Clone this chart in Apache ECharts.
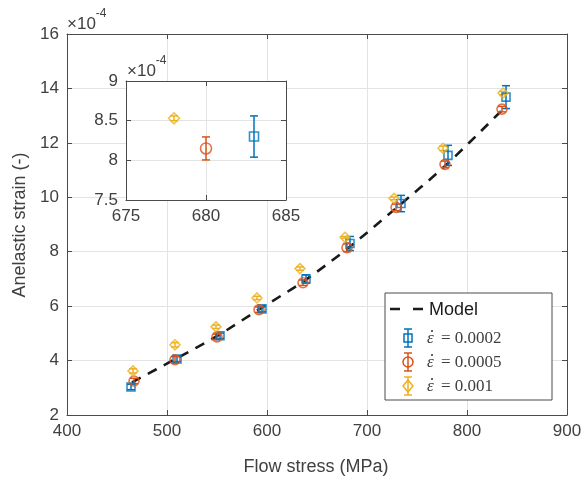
<!DOCTYPE html>
<html>
<head>
<meta charset="utf-8">
<script src="https://cdn.jsdelivr.net/npm/echarts@6/dist/echarts.min.js"></script>
<style>
  html, body { margin: 0; padding: 0; background: #fff; }
  #main { width: 585px; height: 488px; }
</style>
</head>
<body>
<div id="main"></div>
<script>
// strain values are in units of 1e-4
const stressB = [464, 510, 553, 595, 639, 683, 734, 781, 839];
const strainB = [3.03, 4.06, 4.91, 5.90, 7.00, 8.30, 9.77, 11.54, 13.68];
const errB = [0.10, 0.10, 0.10, 0.10, 0.15, 0.26, 0.30, 0.37, 0.42];

const stressO = [467, 508, 550, 592, 636, 680, 729, 778, 835];
const strainO = [3.25, 4.03, 4.87, 5.87, 6.86, 8.15, 9.63, 11.21, 13.24];
const errO = [0.10, 0.12, 0.10, 0.10, 0.10, 0.145, 0.12, 0.12, 0.10];

const stressY = [466, 508, 549, 590, 633, 678, 727, 776, 836];
const strainY = [3.62, 4.58, 5.24, 6.30, 7.38, 8.53, 9.96, 11.80, 13.83];
const errY = [0.08, 0.08, 0.06, 0.06, 0.06, 0.03, 0.05, 0.08, 0.06];

const modelStress = [465, 508, 550, 592, 636, 680, 729, 778, 835];
const modelStrain = [3.2, 4.05, 4.9, 5.88, 6.9, 8.1, 9.6, 11.15, 13.2];

const legendLabels = ['= 0.0002', '= 0.0005', '= 0.001'];

const BLUE = '#0072BD', ORANGE = '#D95319', YELLOW = '#EDB120';
const AXC = '#4a4a4a', TXT = '#404040', GRIDC = '#e3e3e3';
const FONT = 'Liberation Sans, Arial, sans-serif';
const SERIF = 'Liberation Serif, DejaVu Serif, serif';

const chart = echarts.init(document.getElementById('main'));

function pts(xs, ys, es) {
  return xs.map((x, i) => [x, ys[i], es[i]]);
}

// vertical error bar with caps
function renderErr(params, api) {
  const x = api.value(0), y = api.value(1), e = api.value(2);
  const top = api.coord([x, y + e]);
  const bot = api.coord([x, y - e]);
  const w = 4;
  const style = { stroke: api.visual('color'), lineWidth: 1.5 };
  return {
    type: 'group',
    children: [
      { type: 'line', shape: { x1: top[0], y1: top[1], x2: bot[0], y2: bot[1] }, style },
      { type: 'line', shape: { x1: top[0] - w, y1: top[1], x2: top[0] + w, y2: top[1] }, style },
      { type: 'line', shape: { x1: bot[0] - w, y1: bot[1], x2: bot[0] + w, y2: bot[1] }, style }
    ]
  };
}

function axisBase(min, max, interval) {
  return {
    type: 'value', min, max, interval,
    axisLine: { show: true, onZero: false, lineStyle: { color: AXC, width: 1 } },
    axisTick: { show: true, inside: true, length: 5, lineStyle: { color: AXC } },
    axisLabel: { color: TXT, fontSize: 17, fontFamily: FONT },
    splitLine: { show: true, lineStyle: { color: GRIDC, width: 1 } }
  };
}

function mirror(ax, pos) {
  ax.position = pos;
  ax.axisLabel = { show: false };
  ax.splitLine = { show: false };
  return ax;
}

function groupSeries(xs, ys, es, color, symbol, size, axIdx, z) {
  return [
    {
      type: 'custom', xAxisIndex: axIdx, yAxisIndex: axIdx, z,
      clip: true, renderItem: renderErr,
      itemStyle: { color }, data: pts(xs, ys, es)
    },
    {
      type: 'scatter', xAxisIndex: axIdx, yAxisIndex: axIdx, z: z + 1,
      clip: true, symbol, symbolSize: size,
      itemStyle: { color: 'rgba(0,0,0,0)', borderColor: color, borderWidth: 1.6 },
      data: xs.map((x, i) => [x, ys[i]])
    }
  ];
}

const series = [
  {
    name: 'Model', type: 'line', xAxisIndex: 0, yAxisIndex: 0, z: 3,
    symbol: 'none', smooth: 0.3,
    lineStyle: { color: '#1a1a1a', width: 2.6, type: [10, 8] },
    data: modelStress.map((x, i) => [x, modelStrain[i]])
  },
  ...groupSeries(stressB, strainB, errB, BLUE, 'rect', 8, 0, 4),
  ...groupSeries(stressO, strainO, errO, ORANGE, 'circle', 10, 0, 4),
  ...groupSeries(stressY, strainY, errY, YELLOW, 'diamond', 10, 0, 4),
  // inset (axes index 2)
  ...groupSeries(stressB, strainB, errB, BLUE, 'rect', 9, 2, 12),
  ...groupSeries(stressO, strainO, errO, ORANGE, 'circle', 11, 2, 12),
  ...groupSeries(stressY, strainY, errY, YELLOW, 'diamond', 11, 2, 12)
];

const mainX = Object.assign(axisBase(400, 900, 100), { gridIndex: 0 });
const mainX2 = mirror(Object.assign(axisBase(400, 900, 100), { gridIndex: 0 }), 'top');
const mainY = Object.assign(axisBase(2, 16, 2), { gridIndex: 0 });
const mainY2 = mirror(Object.assign(axisBase(2, 16, 2), { gridIndex: 0 }), 'right');

const insetX = Object.assign(axisBase(675, 685, 5), { gridIndex: 1, z: 10 });
const insetY = Object.assign(axisBase(7.5, 9, 0.5), { gridIndex: 1, z: 10 });
insetY.axisLabel.formatter = v => (Math.round(v * 10) / 10).toString();
const insetX2 = mirror(Object.assign(axisBase(675, 685, 5), { gridIndex: 1, z: 10 }), 'top');
const insetY2 = mirror(Object.assign(axisBase(7.5, 9, 0.5), { gridIndex: 1, z: 10 }), 'right');

const Z = 100;
function legendErrIcon(cx, cy, color, shape) {
  const style = { stroke: color, lineWidth: 1.5, fill: 'none' };
  return [
    { type: 'line', z: Z, shape: { x1: cx, y1: cy - 9, x2: cx, y2: cy + 9 }, style },
    { type: 'line', z: Z, shape: { x1: cx - 4, y1: cy - 9, x2: cx + 4, y2: cy - 9 }, style },
    { type: 'line', z: Z, shape: { x1: cx - 4, y1: cy + 9, x2: cx + 4, y2: cy + 9 }, style },
    Object.assign({ z: Z }, shape)
  ];
}
function epsLabel(x, y, txt) {
  return [
    { type: 'text', z: Z, x: x, y: y, style: { text: 'ε', fontFamily: SERIF, fontStyle: 'italic', fontSize: 17, fill: TXT, verticalAlign: 'middle' } },
    { type: 'circle', z: Z, shape: { cx: x + 5, cy: y - 8, r: 1.1 }, style: { fill: TXT } },
    { type: 'text', z: Z, x: x + 14, y: y, style: { text: txt, fontFamily: SERIF, fontSize: 17, fill: TXT, verticalAlign: 'middle' } }
  ];
}
const expRich = {
  a: { fontSize: 17, fontFamily: FONT, fill: TXT, padding: [8, 0, 0, 0] },
  b: { fontSize: 12, fontFamily: FONT, fill: TXT, verticalAlign: 'top' }
};

const graphic = [
  { type: 'text', left: 67, top: 8, z: Z, style: { text: '{a|×10}{b|-4}', rich: expRich } },
  { type: 'text', left: 127, top: 55, z: Z, style: { text: '{a|×10}{b|-4}', rich: expRich } },
  { type: 'text', x: 316, y: 467, z: Z, style: { text: 'Flow stress (MPa)', fontSize: 18, fontFamily: FONT, fill: TXT, align: 'center', verticalAlign: 'middle' } },
  { type: 'text', x: 20, y: 225, rotation: Math.PI / 2, z: Z, style: { text: 'Anelastic strain (-)', fontSize: 18, fontFamily: FONT, fill: TXT, align: 'center', verticalAlign: 'middle' } },
  { type: 'rect', z: Z - 1, shape: { x: 385, y: 293, width: 167, height: 107 }, style: { fill: '#fff', stroke: AXC, lineWidth: 1 } },
  { type: 'line', z: Z, shape: { x1: 390, y1: 309, x2: 423, y2: 309 }, style: { stroke: '#1a1a1a', lineWidth: 2.6, lineDash: [10, 13] } },
  { type: 'text', z: Z, x: 429, y: 310, style: { text: 'Model', fontSize: 18, fontFamily: FONT, fill: '#1a1a1a', verticalAlign: 'middle' } },
  ...legendErrIcon(408, 338, BLUE, { type: 'rect', shape: { x: 404, y: 334, width: 8, height: 8 }, style: { stroke: BLUE, lineWidth: 1.5, fill: 'none' } }),
  ...legendErrIcon(408, 362, ORANGE, { type: 'circle', shape: { cx: 408, cy: 362, r: 5 }, style: { stroke: ORANGE, lineWidth: 1.5, fill: 'none' } }),
  ...legendErrIcon(408, 386, YELLOW, { type: 'polygon', shape: { points: [[408, 380], [413, 386], [408, 392], [403, 386]] }, style: { stroke: YELLOW, lineWidth: 1.5, fill: 'none' } }),
  ...epsLabel(427, 339, legendLabels[0]),
  ...epsLabel(427, 363, legendLabels[1]),
  ...epsLabel(427, 387, legendLabels[2])
];

chart.setOption({
  backgroundColor: '#fff',
  animation: false,
  grid: [
    { left: 67, right: 18, top: 34, bottom: 73 },
    { left: 126, width: 160, top: 81, height: 119, show: true, backgroundColor: '#fff', borderWidth: 0, z: 8 }
  ],
  xAxis: [mainX, mainX2, insetX, insetX2],
  yAxis: [mainY, mainY2, insetY, insetY2],
  series,
  graphic
});
</script>
</body>
</html>
